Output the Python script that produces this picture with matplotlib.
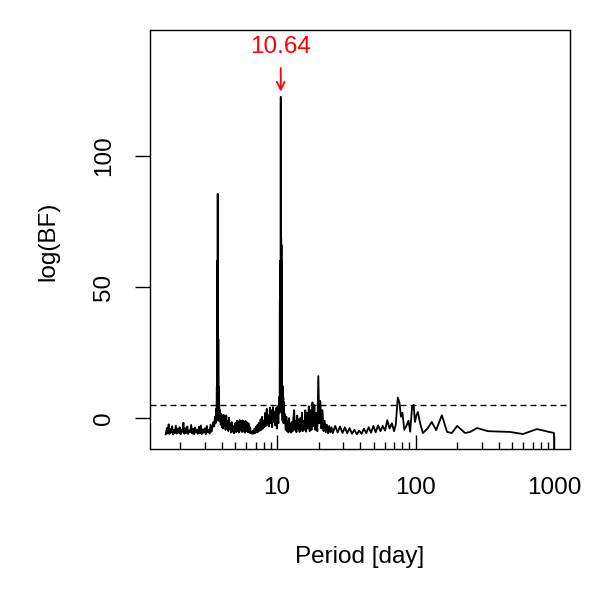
import matplotlib
matplotlib.use("Agg")
import matplotlib.pyplot as plt
from matplotlib.ticker import LogLocator, NullFormatter, FixedLocator, FixedFormatter

plt.rcParams["font.family"] = ["Liberation Sans", "DejaVu Sans"]

# periodogram: period [day] and log Bayes factor
period = [
    1.57, 1.60, 1.62, 1.65, 1.67, 1.70, 1.72, 1.75, 1.78, 1.80,
    1.83, 1.86, 1.89, 1.92, 1.95, 1.98, 2.01, 2.04, 2.08, 2.11,
    2.14, 2.18, 2.21, 2.25, 2.28, 2.32, 2.36, 2.40, 2.44, 2.48,
    2.52, 2.56, 2.60, 2.64, 2.68, 2.73, 2.77, 2.82, 2.86, 2.91,
    2.96, 3.01, 3.06, 3.11, 3.16, 3.21, 3.26, 3.31, 3.37, 3.42,
    3.47, 3.52, 3.56, 3.60, 3.63, 3.66, 3.675, 3.685, 3.69, 3.70,
    3.71, 3.72, 3.73, 3.74, 3.75, 3.76, 3.77, 3.78, 3.79, 3.80,
    3.82, 3.85, 3.88, 3.92, 3.96, 4.00, 4.04, 4.08, 4.12,
    4.16, 4.21, 4.25, 4.30, 4.35, 4.40, 4.45, 4.50, 4.55, 4.60,
    4.66, 4.71, 4.77, 4.83, 4.89, 4.95,
    5.01, 5.07, 5.13, 5.19, 5.25, 5.32, 5.38, 5.45, 5.51, 5.58,
    5.65, 5.72, 5.79, 5.86, 5.93, 6.00, 6.08, 6.15, 6.23, 6.31,
    6.39, 6.47, 6.55, 6.63, 6.71, 6.80, 6.88, 6.97, 7.06, 7.15,
    7.24, 7.33, 7.42, 7.52, 7.61, 7.71, 7.81, 7.91, 8.01, 8.11,
    8.22, 8.32, 8.43, 8.54, 8.65, 8.76, 8.88, 8.99, 9.11, 9.23,
    9.35, 9.47, 9.59, 9.72, 9.84, 9.97, 10.10, 10.23, 10.36, 10.44,
    10.48, 10.50, 10.52, 10.54, 10.56, 10.58, 10.60, 10.62, 10.64, 10.66,
    10.68, 10.70, 10.72, 10.74, 10.76, 10.78, 10.80, 10.82, 10.84, 10.87,
    10.90, 10.95, 11.00, 11.05, 11.10, 11.15, 11.20,
    11.30, 11.42, 11.55, 11.68, 11.81, 11.95, 12.09, 12.23, 12.37, 12.52,
    12.67, 12.82, 12.98, 13.14, 13.30, 13.47, 13.64, 13.81, 13.99, 14.17,
    14.35, 14.54, 14.74, 14.94, 15.14, 15.35, 15.56, 15.78, 16.00, 16.23,
    16.47, 16.71, 16.96, 17.22, 17.48, 17.75, 18.03, 18.31, 18.61, 18.91,
    19.22, 19.54, 19.87, 20.21, 20.56, 20.92, 21.29, 21.68, 22.08, 22.49,
    22.91, 23.35, 23.80, 24.27, 24.75, 25.25,
    26.3, 27.4, 28.5, 29.7, 30.9, 32.1, 33.4, 34.8, 36.2, 37.7,
    39.2, 40.8, 42.4, 44.1, 45.9, 47.7, 49.6, 51.6, 53.7, 55.8,
    58.0, 60.3, 62.5, 65.0, 67.5, 70.0, 72.0, 74.5, 76.5, 78.5,
    80.5, 83.0, 86.0, 89.0, 91.5, 94.5, 97.0, 99.0, 101.5, 104.0,
    108, 113, 122, 131, 141, 155, 169, 183, 200, 228,
    248, 278, 334, 481, 597, 753, 1000, 1005,
]
logbf = [
    -6.2, -3.8, -5.9, -2.4, -6.1, -4.2, -5.5, -3.1, -6.3, -4.6,
    -5.8, -2.9, -6.0, -4.0, -5.6, -3.5, -6.2, -4.4, -5.3, -1.8,
    -6.0, -3.9, -5.7, -3.2, -6.1, -4.7, -5.4, -2.6, -5.9, -4.1,
    -6.2, -3.6, -5.5, -4.5, -6.0, -3.3, -5.8, -2.8, -6.1, -4.3,
    -5.6, -3.9, -6.2, -3.0, -5.4, -4.4, -5.9, -2.5, -5.2, -3.4,
    -1.5, -3.2, 0.5, -2.0, 3.5, 2.0, 12.0, -1.0, 60.0, 4.0,
    55.0, 2.0, 85.5, 5.0, 35.0, 1.0, 30.0, 3.0, 12.0, -1.0,
    6.0, -1.0, 3.0, -2.5, 1.5, -3.5, 0.8, -4.0, 1.2,
    -3.0, -0.5, -4.5, 1.0, -3.8, -1.2, -5.0, 0.2, -4.2, -2.0,
    -5.5, -1.5, -5.2, -3.0, -5.8, -3.5,
    -1.8, -5.4, -1.0, -5.0, -1.5, -5.5, -0.8, -4.8, -1.2, -5.3,
    -0.9, -5.1, -1.4, -5.6, -1.1, -5.0, -1.6, -5.4, -2.0, -5.6,
    -3.5, -5.8, -5.2, -6.0, -4.8, -5.9, -4.0, -5.7, -3.2, -5.5,
    -2.5, -5.2, -1.8, -4.8, -0.5, -4.5, 0.5, -4.0, -1.0, -3.5,
    2.0, -3.0, 3.5, -2.5, 1.0, -3.2, 4.0, -2.0, 3.0, -3.5,
    4.2, -1.5, 2.5, -2.8, 3.8, -4.0, 4.5, -2.0, 8.0, 2.0,
    45.0, 3.0, 60.0, 5.0, 58.0, 8.0, 60.0, 10.0, 122.5, 12.0,
    66.0, 8.0, 68.5, 6.0, 66.0, 5.0, 60.0, 3.0, 40.0, 2.0,
    12.5, -1.0, 12.0, 0.0, 8.0, -2.0, 6.0,
    -2.0, 1.5, -4.5, 0.5, -5.0, -1.0, -5.5, 0.0, -4.8, -2.0,
    -5.6, -1.5, -5.0, 0.5, 3.0, -4.5, -1.0, -5.4, 1.0, -4.0,
    -0.5, -5.3, 0.0, -4.8, 2.0, -5.0, -1.0, -4.5, 3.0, -5.2,
    2.0, -4.0, 4.5, -5.0, 3.0, -4.5, 6.0, -3.0, 5.0, -4.5,
    2.0, -5.0, 16.0, -2.0, 6.5, -4.0, 3.0, -5.0, -1.0, -5.5,
    -2.5, -5.8, -3.0, -5.5, -3.5, -5.8,
    -3.0, -5.5, -3.2, -5.7, -3.5, -5.8, -3.8, -6.0, -4.5, -6.2,
    -4.8, -6.0, -4.0, -5.8, -3.5, -5.6, -3.0, -5.4, -2.8, -5.0,
    -3.0, -4.8, -0.8, -4.0, -2.0, -5.0, -2.5, 7.8, 6.0, 0.5,
    2.0, -4.5, -3.0, -1.0, -5.2, 4.3, 5.0, -1.5, 1.0, 2.3,
    -2.0, -5.7, -4.0, -1.5, -4.6, 1.1, -5.3, -5.7, -3.0, -5.7,
    -5.3, -3.8, -5.0, -5.3, -6.1, -4.2, -5.7, -20.0,
]
threshold = 5.0
best_period = 10.64
best_label = "10.64"
y_ticks = [0, 50, 100]
x_ticks = [10, 100, 1000]

fig = plt.figure(figsize=(6, 6), dpi=100)
ax = fig.add_axes([0.25, 1 - 449 / 600, 0.70, (449 - 30) / 600])

ax.plot(period, logbf, color="black", lw=1.3)
ax.axhline(threshold, color="black", lw=1.0, dashes=(4.3, 2.9))

ax.set_xscale("log")
ax.set_xlim(1.21, 1305)
ax.set_ylim(-11.8, 148)

ax.xaxis.set_major_locator(FixedLocator(x_ticks))
ax.xaxis.set_major_formatter(FixedFormatter([str(t) for t in x_ticks]))
ax.xaxis.set_minor_locator(LogLocator(base=10, subs=range(2, 10), numticks=20))
ax.xaxis.set_minor_formatter(NullFormatter())
ax.tick_params(axis="x", which="major", direction="in", length=10, width=1.0,
               pad=20, labelsize=17.5)
ax.tick_params(axis="x", which="minor", direction="in", length=5, width=1.0)

ax.set_yticks(y_ticks)
ax.tick_params(axis="y", which="major", direction="out", length=11, width=1.0,
               pad=14, labelsize=17.5)
for lab in ax.get_yticklabels():
    lab.set_rotation(90)
    lab.set_va("center")

for s in ax.spines.values():
    s.set_linewidth(1.0)

# arrow and label for the best period
ax.annotate("", xy=(best_period, 124.5), xytext=(best_period, 133.5),
            arrowprops=dict(arrowstyle="->", color="red", lw=1.3,
                            mutation_scale=14, shrinkA=0, shrinkB=0))
ax.text(best_period, 141.5, best_label, color="red", ha="center", va="center",
        fontsize=17.5)

fig.text(360 / 600, 1 - 557 / 600, "Period [day]", ha="center", va="center",
         fontsize=17.5)
fig.text(48 / 600, 1 - 241 / 600, "log(BF)", ha="center", va="center",
         rotation=90, fontsize=17.5)

fig.savefig("out.png", dpi=100)
